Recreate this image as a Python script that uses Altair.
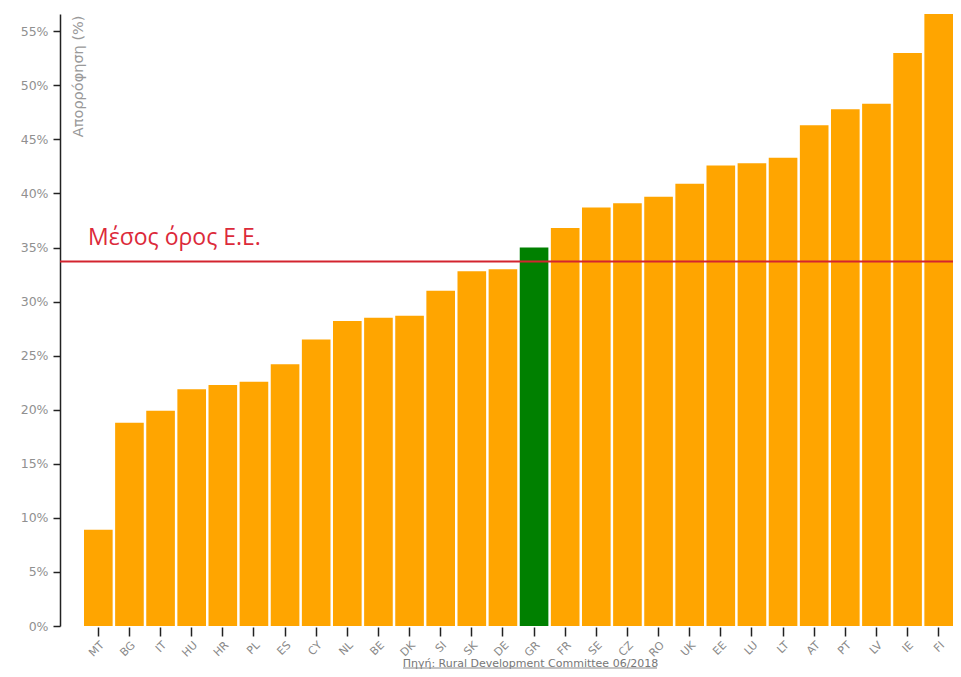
import altair as alt
import pandas as pd

countries = ["MT", "BG", "IT", "HU", "HR", "PL", "ES", "CY", "NL", "BE", "DK", "SI", "SK", "DE",
             "GR", "FR", "SE", "CZ", "RO", "UK", "EE", "LU", "LT", "AT", "PT", "LV", "IE", "FI"]
absorption = [8.9, 18.8, 19.9, 21.9, 22.3, 22.6, 24.2, 26.5, 28.2, 28.5, 28.7, 31.0, 32.8, 33.0,
              35.0, 36.8, 38.7, 39.1, 39.7, 40.9, 42.6, 42.8, 43.3, 46.3, 47.8, 48.3, 53.0, 56.6]
highlight = ["GR"]
eu_mean = [33.7]
mean_label = ["Μέσος όρος Ε.Ε."]
y_ticks = [0, 5, 10, 15, 20, 25, 30, 35, 40, 45, 50, 55]
source_text = "Πηγή: Rural Development Committee 06/2018"

df = pd.DataFrame({"country": countries, "value": absorption})
df["hl"] = df["country"].isin(highlight).map({True: "GR", False: "other"})
mean_df = pd.DataFrame({"mean": eu_mean, "label": mean_label})

W, H = 893, 612
AXF = "DejaVu Sans"
SRC_X = 470

x_enc = alt.X(
    "country:N", sort=countries,
    scale=alt.Scale(range=[24, W], paddingInner=0.08, paddingOuter=0),
    axis=alt.Axis(
        title=source_text,
        titleFontSize=11, titleColor="#777777", titleFontWeight="normal", titleFont=AXF,
        titleBaseline="alphabetic", titleAlign="center", titleY=39, titleX=SRC_X,
        labelAngle=-45, labelFontSize=11, labelColor="#888888", labelFont=AXF,
        domain=False, tickColor="#222222", tickSize=9, tickWidth=1.5, labelPadding=3, offset=1,
    ),
)

y_enc = alt.Y(
    "value:Q",
    scale=alt.Scale(domain=[0, 56.6], nice=False, zero=True),
    axis=alt.Axis(
        values=y_ticks, labelExpr="datum.value + '%'",
        title="Απορρόφηση (%)", titleFontSize=14.5, titleColor="#999999", titleFontWeight="normal",
        titleFont=AXF, titleAngle=-90, titleX=11, titleY=1, titleAlign="right", titleBaseline="top",
        labelFontSize=12.5, labelColor="#909090", labelFont=AXF, labelPadding=5,
        domainColor="#222222", domainWidth=1.5, tickColor="#222222", tickWidth=1.5, tickSize=7,
        grid=False,
    ),
)

bars = alt.Chart(df).mark_bar().encode(
    x=x_enc,
    y=y_enc,
    color=alt.Color("hl:N", scale=alt.Scale(domain=["other", "GR"], range=["#FFA500", "#008000"]), legend=None),
)

rule = alt.Chart(mean_df).mark_rule(color="#d3242f", strokeWidth=2).encode(y="mean:Q")

text = alt.Chart(mean_df).mark_text(
    color="#dc2a3a", fontSize=23, font="Open Sans", align="left", baseline="alphabetic", dy=-17
).encode(y="mean:Q", x=alt.value(28), text="label:N")

underline = alt.Chart(mean_df).mark_rule(color="#888888", strokeWidth=1).encode(
    x=alt.value(SRC_X - 127), x2=alt.value(SRC_X + 127), y=alt.value(H + 42)
)

chart = alt.layer(bars, rule, text, underline).properties(
    width=W, height=H,
    autosize=alt.AutoSizeParams(type="none"),
    padding={"left": 52, "top": 6, "right": 0, "bottom": 43},
).configure_view(stroke=None)

chart.save("out.html", embed_options={"renderer": "svg", "actions": False})
